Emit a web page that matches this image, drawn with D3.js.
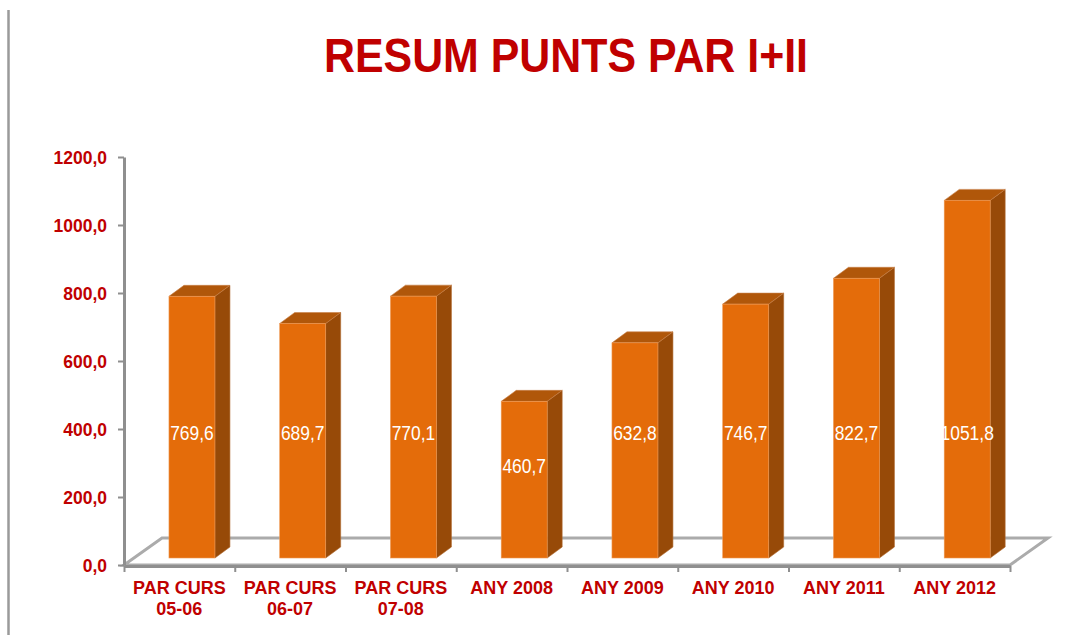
<!DOCTYPE html>
<html><head><meta charset="utf-8">
<script src="https://cdn.jsdelivr.net/npm/d3@7"></script>
<style>html,body{margin:0;padding:0;background:#fff;overflow:hidden}</style>
</head><body>
<svg id="c" width="1089" height="635"></svg>
<script>
const title = "RESUM PUNTS PAR I+II";
const categories = ["PAR CURS\n05-06", "PAR CURS\n06-07", "PAR CURS\n07-08", "ANY 2008", "ANY 2009", "ANY 2010", "ANY 2011", "ANY 2012"];
const values = [769.6, 689.7, 770.1, 460.7, 632.8, 746.7, 822.7, 1051.8];
const valueLabels = ["769,6", "689,7", "770,1", "460,7", "632,8", "746,7", "822,7", "1051,8"];
const yTicks = [0, 200, 400, 600, 800, 1000, 1200];
const yTickLabels = ["0,0", "200,0", "400,0", "600,0", "800,0", "1000,0", "1200,0"];

const svg = d3.select("#c");
const RED = "#C00000";
const FRONT = "#E46C0A", SIDE = "#974A08", TOP = "#B0570A";
const AX = "#8f8f8f", FLOOR = "#ababab";

// slide border
svg.append("line").attr("x1", 8.5).attr("x2", 8.5).attr("y1", 10).attr("y2", 635)
  .attr("stroke", "#9a9a9a").attr("stroke-width", 2.5);

// title
svg.append("text").attr("x", 566).attr("y", 72).attr("text-anchor", "middle")
  .attr("font-family", "'Liberation Sans', Arial, sans-serif").attr("font-weight", "bold")
  .attr("font-size", 49).attr("fill", RED)
  .attr("textLength", 484).attr("lengthAdjust", "spacingAndGlyphs")
  .text(title);

const x = d3.scaleBand().domain(categories).range([124, 1010]).paddingInner(0).paddingOuter(0);
const xb = d3.scaleLinear().domain([0, categories.length]).range([124, 1010]);
const y = d3.scaleLinear().domain([0, 1200]).range([565, 157]);
const bw = x.bandwidth();

// floor
const fdx = 38, fdy = -27;
const [x0, x1] = xb.range();
const y0 = y(0);
svg.append("polygon")
  .attr("points", [[x0, y0], [x0 + fdx, y0 + fdy], [x1 + fdx, y0 + fdy], [x1, y0]].map(p => p.join(",")).join(" "))
  .attr("fill", "none").attr("stroke", FLOOR).attr("stroke-width", 3).attr("stroke-linejoin", "miter");

// y axis
const yAxis = svg.append("g").attr("transform", `translate(${x0},0)`)
  .call(d3.axisLeft(y).tickValues(yTicks).tickFormat((d, i) => yTickLabels[i]).tickSize(6).tickSizeOuter(0).tickPadding(11));
yAxis.select(".domain").attr("stroke", AX).attr("stroke-width", 3);
yAxis.selectAll(".tick line").attr("stroke", AX).attr("stroke-width", 2);
yAxis.selectAll(".tick text").attr("fill", RED).attr("font-size", 17.5).attr("font-weight", "bold")
  .attr("font-family", "'Liberation Sans', Arial, sans-serif").attr("dy", "0.36em");

// x axis (ticks at category boundaries)
const xAxis = svg.append("g").attr("transform", `translate(0,${y0 + 1})`)
  .call(d3.axisBottom(xb).ticks(categories.length).tickFormat("").tickSize(6).tickSizeOuter(0));
xAxis.select(".domain").attr("stroke", AX).attr("stroke-width", 3);
xAxis.selectAll(".tick line").attr("stroke", AX).attr("stroke-width", 2);

// category labels
categories.forEach(c => {
  const t = svg.append("text").attr("x", x(c) + bw / 2).attr("y", 594)
    .attr("text-anchor", "middle").attr("fill", RED).attr("font-size", 18).attr("font-weight", "bold")
    .attr("font-family", "'Liberation Sans', Arial, sans-serif");
  c.split("\n").forEach((line, i) => {
    t.append("tspan").attr("x", x(c) + bw / 2).attr("y", 594 + i * 21).text(line);
  });
});

// bars
const bOff = 7, bdx = 15, bdy = -11;
const bars = svg.append("g");
values.forEach((v, i) => {
  const c = categories[i];
  const left = x(c) + bw * 0.406, w = bw * 0.415;
  const bot = y(0) - bOff, top = y(v) - bOff;
  const g = bars.append("g");
  g.append("polygon")
    .attr("points", [[left + w, top], [left + w + bdx, top + bdy], [left + w + bdx, bot + bdy], [left + w, bot]].map(p => p.join(",")).join(" "))
    .attr("fill", SIDE).attr("stroke", "#b06a30").attr("stroke-width", 0.6);
  g.append("polygon")
    .attr("points", [[left, top], [left + bdx, top + bdy], [left + w + bdx, top + bdy], [left + w, top]].map(p => p.join(",")).join(" "))
    .attr("fill", TOP).attr("stroke", "#c78048").attr("stroke-width", 0.6);
  g.append("rect").attr("x", left).attr("y", top).attr("width", w).attr("height", bot - top)
    .attr("fill", FRONT).attr("stroke", "#ee9a55").attr("stroke-width", 0.6);
  const cy = Math.max(top + 64, 432);
  const cx = left + w / 2;
  g.append("text").attr("transform", `translate(${cx},${cy + 7.5}) scale(0.83,1)`)
    .attr("text-anchor", "middle").attr("fill", "#fff").attr("font-size", 21)
    .attr("font-family", "'Liberation Sans', Arial, sans-serif")
    .text(valueLabels[i]);
});
</script>
</body></html>
